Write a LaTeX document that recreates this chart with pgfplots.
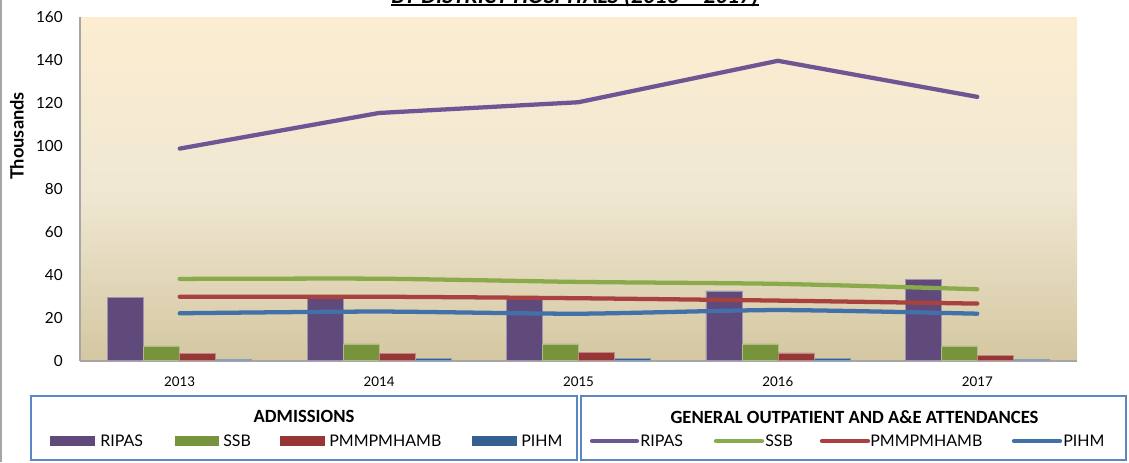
\documentclass[border=0pt]{standalone}
\usepackage{fontspec}
\setmainfont{Lato}
\newfontfamily\calfont{Carlito}
\usepackage{pgfplots}
\pgfplotsset{compat=1.18}
\usepackage{pgfplotstable}

\definecolor{ripasB}{HTML}{604A7B}
\definecolor{ssbB}{HTML}{77933C}
\definecolor{pmmB}{HTML}{963735}
\definecolor{pihmB}{HTML}{376092}
\definecolor{ripasL}{HTML}{6E5694}
\definecolor{ssbL}{HTML}{8AAB4B}
\definecolor{pmmL}{HTML}{A9413F}
\definecolor{pihmL}{HTML}{4270A8}
\definecolor{bgtop}{HTML}{FCEDD1}
\definecolor{bgmid}{HTML}{F0E8D3}
\definecolor{bgbot}{HTML}{D4C7A1}
\definecolor{axisgray}{HTML}{A6A6A6}
\definecolor{legblue}{HTML}{5B87C0}

\pgfplotstableread{
x ripas ssb pmm pihm
0 29.2 6.8 3.4 0.7
1 29.0 7.7 3.4 1.1
2 28.6 7.7 3.6 1.0
3 32.4 7.7 3.5 1.0
4 37.9 6.8 2.4 0.7
}\admissions

\pgfplotstableread{
x ripas ssb pmm pihm
0 98.7 38.0 29.7 22.0
1 115.3 38.1 29.7 22.8
2 120.3 36.6 29.0 21.8
3 139.6 35.7 27.9 23.5
4 122.8 33.2 26.5 21.8
}\outpatient

\begin{document}
\begin{tikzpicture}[x=1pt,y=1pt]
\useasboundingbox (0,0) rectangle (846.75,346.5);
% left border line
\draw[axisgray, line width=1.2pt] (0.75,0) -- (0.75,346.5);
% title (cut off at top, as in the original)
\node[anchor=base, inner sep=0pt, font=\calfont\bfseries\itshape\fontsize{17.6}{20}\selectfont] (ttl) at (431.25,344.25) {BY DISTRICT HOSPITALS (2013 -- 2017)};
\draw[line width=1pt] ([yshift=-1.5pt]ttl.base west) -- ([yshift=-1.5pt]ttl.base east);

\begin{axis}[
  at={(60pt,76.125pt)}, anchor=south west,
  scale only axis, width=747.75pt, height=257.625pt,
  xmin=-0.5, xmax=4.5, ymin=0, ymax=160,
  xtick={0,1,2,3,4}, xticklabels={2013,2014,2015,2016,2017},
  ytick={0,20,...,160},
  axis x line=bottom, axis y line=left,
  axis line style={draw=axisgray, line width=1.5pt, -},
  major tick length=0pt,
  /pgf/number format/assume math mode=true,
  xticklabel style={anchor=north, inner sep=0pt, yshift=-12.2pt, font=\fontsize{10}{12}\selectfont},
  yticklabel style={anchor=east, inner sep=0pt, xshift=-12.75pt, font=\fontsize{11.5}{13}\selectfont},
  axis background/.style={top color=bgtop, bottom color=bgbot, middle color=bgmid},
]
\addplot[ybar, bar width=27pt, bar shift=-40.5pt, fill=ripasB, draw=ripasB!60!white, line width=0.5pt] table[x=x,y=ripas]{\admissions};
\addplot[ybar, bar width=27pt, bar shift=-13.5pt, fill=ssbB, draw=ssbB!60!white, line width=0.5pt] table[x=x,y=ssb]{\admissions};
\addplot[ybar, bar width=27pt, bar shift=13.5pt, fill=pmmB, draw=pmmB!60!white, line width=0.5pt] table[x=x,y=pmm]{\admissions};
\addplot[ybar, bar width=27pt, bar shift=40.5pt, fill=pihmB, draw=pihmB!60!white, line width=0.5pt] table[x=x,y=pihm]{\admissions};

\addplot[ripasL, line width=3.2pt, line cap=round, line join=round, no marks] table[x=x,y=ripas]{\outpatient};
\addplot[ssbL, line width=3.2pt, line cap=round, line join=round, no marks, smooth, tension=0.4] table[x=x,y=ssb]{\outpatient};
\addplot[pmmL, line width=3.2pt, line cap=round, line join=round, no marks, smooth, tension=0.4] table[x=x,y=pmm]{\outpatient};
\addplot[pihmL, line width=3.2pt, line cap=round, line join=round, no marks, smooth, tension=0.4] table[x=x,y=pihm]{\outpatient};
\end{axis}

% y label
\node[rotate=90, inner sep=0pt, font=\bfseries\fontsize{13.7}{15}\selectfont] at (12.75,244.5) {Thousands};

% legend 1
\draw[legblue, line width=1.1pt] (23.25,1.5) rectangle (432.75,49.5);
\node[font=\calfont\bfseries\fontsize{14}{16}\selectfont, inner sep=0pt] at (228,34.5) {ADMISSIONS};
\fill[ripasB] (37.5,12) rectangle (71.25,19.5);
\node[anchor=west, inner sep=0pt, font=\fontsize{12}{14}\selectfont] at (75,15.75) {RIPAS};
\fill[ssbB] (131.25,12) rectangle (164.25,19.5);
\node[anchor=west, inner sep=0pt, font=\fontsize{12}{14}\selectfont] at (167.25,15.75) {SSB};
\fill[pmmB] (210,12) rectangle (243.75,19.5);
\node[anchor=west, inner sep=0pt, font=\fontsize{12}{14}\selectfont] at (246.75,15.75) {PMMPMHAMB};
\fill[pihmB] (354,12) rectangle (387.75,19.5);
\node[anchor=west, inner sep=0pt, font=\fontsize{12}{14}\selectfont] at (390.75,15.75) {PIHM};

% legend 2
\draw[legblue, line width=1.1pt] (435.75,1.5) rectangle (844.5,49.5);
\node[font=\calfont\bfseries\fontsize{14}{16}\selectfont, inner sep=0pt] at (640.9,34) {GENERAL OUTPATIENT AND A\&E ATTENDANCES};
\draw[ripasL, line width=3.2pt, line cap=round] (444,15.75) -- (477.75,15.75);
\node[anchor=west, inner sep=0pt, font=\fontsize{12}{14}\selectfont] at (480,15.75) {RIPAS};
\draw[ssbL, line width=3.2pt, line cap=round] (537,15.75) -- (571.5,15.75);
\node[anchor=west, inner sep=0pt, font=\fontsize{12}{14}\selectfont] at (573.75,15.75) {SSB};
\draw[pmmL, line width=3.2pt, line cap=round] (616.5,15.75) -- (651,15.75);
\node[anchor=west, inner sep=0pt, font=\fontsize{12}{14}\selectfont] at (652.5,15.75) {PMMPMHAMB};
\draw[pihmL, line width=3.2pt, line cap=round] (760.5,15.75) -- (795,15.75);
\node[anchor=west, inner sep=0pt, font=\fontsize{12}{14}\selectfont] at (797.25,15.75) {PIHM};
\end{tikzpicture}
\end{document}
